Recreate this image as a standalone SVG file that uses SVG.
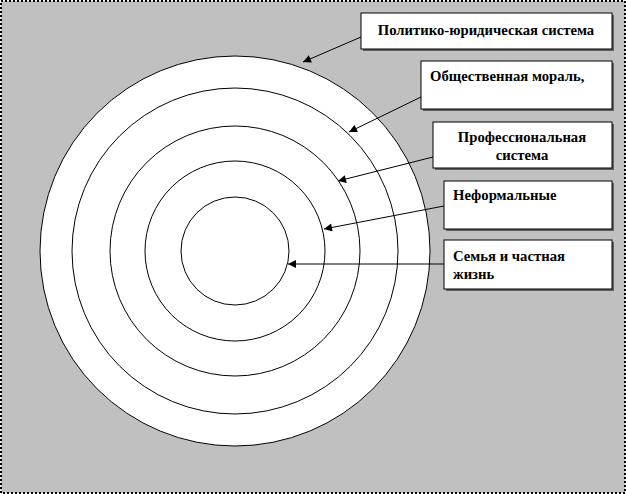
<svg xmlns="http://www.w3.org/2000/svg" width="626" height="494" viewBox="0 0 626 494">
<style>
.c{fill:#fff;stroke:#000;stroke-width:1}
.b{fill:#fff;stroke:#000;stroke-width:1}
.s{fill:#606060}
.t{font-family:"Liberation Serif",serif;font-weight:bold;font-size:14.7px;fill:#000}
.a{stroke:#000;stroke-width:1;fill:none;marker-end:url(#ar)}
</style>
<defs><marker id="ar" viewBox="0 0 10 10" refX="10" refY="5" markerWidth="10" markerHeight="8" orient="auto" markerUnits="userSpaceOnUse"><path d="M0,0L10,5L0,10z" fill="#000"/></marker></defs>
<rect x="1" y="1" width="624" height="492" fill="#c0c0c0" stroke="#000" stroke-width="2" stroke-dasharray="2,2"/>
<g id="circles">
<circle class="c" cx="235" cy="251" r="195"/>
<circle class="c" cx="235" cy="251" r="163"/>
<circle class="c" cx="235" cy="251" r="125"/>
<circle class="c" cx="235" cy="251" r="90"/>
<circle class="c" cx="235" cy="251" r="54"/>
</g>
<g id="n1"><rect class="s" x="363" y="15" width="251" height="36"/><rect class="b" x="361" y="13" width="251" height="36"/><text class="t" x="486" y="35" text-anchor="middle">Политико-юридическая система</text></g>
<g id="n2"><rect class="s" x="423" y="63" width="191" height="48"/><rect class="b" x="421" y="61" width="191" height="48"/><text class="t" x="430" y="81">Общественная мораль,</text></g>
<g id="n3"><rect class="s" x="435" y="124" width="179" height="46"/><rect class="b" x="433" y="122" width="179" height="46"/><text class="t" x="522" y="142" text-anchor="middle">Профессиональная</text><text class="t" x="522" y="160" text-anchor="middle">система</text></g>
<g id="n4"><rect class="s" x="446" y="183" width="168" height="48"/><rect class="b" x="444" y="181" width="168" height="48"/><text class="t" x="453" y="200">Неформальные</text></g>
<g id="n5"><rect class="s" x="446" y="242" width="168" height="49"/><rect class="b" x="444" y="240" width="168" height="49"/><text class="t" x="453" y="261">Семья и частная</text><text class="t" x="453" y="279">жизнь</text></g>
<g id="connectors">
<line class="a" x1="361" y1="37" x2="303" y2="62"/>
<line class="a" x1="421" y1="97" x2="349" y2="132"/>
<line class="a" x1="433" y1="157" x2="338" y2="181"/>
<line class="a" x1="444" y1="206" x2="324" y2="229"/>
<line class="a" x1="444" y1="264" x2="288" y2="264"/>
</g>
</svg>
